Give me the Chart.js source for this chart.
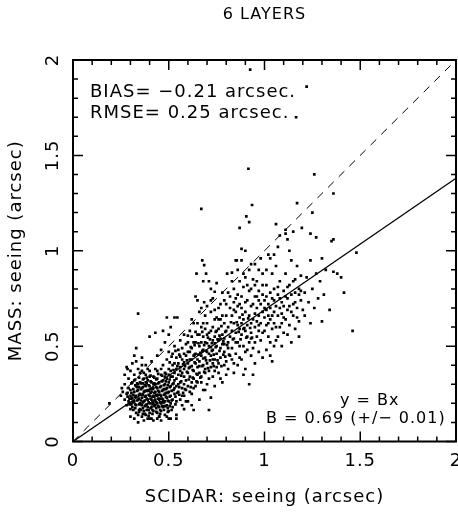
<!DOCTYPE html>
<html>
<head>
<meta charset="utf-8">
<title>6 LAYERS</title>
<script src="https://cdn.jsdelivr.net/npm/chart.js"></script>
<style>
  html, body { margin: 0; padding: 0; background: #fff; }
  canvas { display: block; }
</style>
</head>
<body>
<canvas id="seeingChart" width="458" height="515"></canvas>
<script>
// textes et graduations
const chartTitle = '6 LAYERS';
const xTitle = 'SCIDAR: seeing (arcsec)';
const yTitle = 'MASS: seeing (arcsec)';
const tickValues = [0, 0.5, 1, 1.5, 2];
const tickLabels = ['0', '0.5', '1', '1.5', '2'];
const statsText = ['BIAS= \u22120.21 arcsec.', 'RMSE= 0.25 arcsec.'];
const fitText = ['y = Bx', 'B = 0.69 (+/\u2212 0.01)'];
const fitSlope = 0.69;

// seeing SCIDAR (x) et MASS (y), par lignes de 10
const scidarSeeing = [
  0.27,0.28,0.28,0.29,0.29,0.30,0.30,0.27,0.29,0.30,
  0.31,0.31,0.32,0.32,0.33,0.33,0.31,0.32,0.33,0.30,
  0.33,0.34,0.34,0.34,0.35,0.35,0.35,0.34,0.33,0.35,
  0.36,0.36,0.36,0.37,0.37,0.37,0.37,0.38,0.38,0.38,
  0.36,0.37,0.38,0.38,0.39,0.39,0.39,0.39,0.38,0.36,
  0.40,0.40,0.40,0.40,0.41,0.41,0.41,0.41,0.42,0.42,
  0.42,0.42,0.42,0.40,0.41,0.43,0.43,0.43,0.43,0.43,
  0.44,0.44,0.44,0.44,0.44,0.45,0.45,0.45,0.45,0.45,
  0.46,0.46,0.46,0.46,0.46,0.47,0.47,0.47,0.47,0.47,
  0.48,0.48,0.48,0.48,0.48,0.49,0.49,0.49,0.49,0.49,
  0.50,0.50,0.50,0.50,0.50,0.51,0.51,0.51,0.51,0.51,
  0.355,0.365,0.375,0.385,0.395,0.405,0.415,0.425,0.435,0.445,
  0.355,0.365,0.375,0.385,0.395,0.405,0.415,0.425,0.435,0.445,
  0.315,0.325,0.335,0.345,0.315,0.325,0.345,0.355,0.305,0.285,
  0.455,0.465,0.475,0.485,0.495,0.455,0.465,0.475,0.485,0.495,
  0.525,0.52,0.53,0.52,0.53,0.54,0.54,0.53,0.54,0.52,
  0.26,0.27,0.28,0.30,0.31,0.32,0.35,0.36,0.39,0.41,
  0.30,0.32,0.34,0.37,0.39,0.42,0.44,0.46,0.49,0.40,
  0.335,0.345,0.355,0.365,0.375,0.385,0.395,0.405,0.415,0.425,
  0.435,0.445,0.455,0.465,0.475,0.485,0.495,0.505,0.515,0.505,
  0.295,0.305,0.315,0.325,0.335,0.345,0.355,0.365,0.375,0.385,
  0.395,0.405,0.415,0.425,0.435,0.445,0.455,0.465,0.475,0.485,
  0.55,0.55,0.55,0.56,0.56,0.56,0.57,0.57,0.57,0.58,
  0.58,0.58,0.58,0.59,0.59,0.59,0.60,0.60,0.60,0.60,
  0.61,0.61,0.61,0.62,0.62,0.62,0.63,0.63,0.63,0.64,
  0.64,0.64,0.65,0.65,0.65,0.52,0.53,0.54,0.55,0.56,
  0.57,0.58,0.59,0.60,0.61,0.62,0.63,0.44,0.46,0.48,
  0.50,0.50,0.51,0.49,0.53,0.545,0.47,0.43,0.40,0.33,
  0.54,0.62,0.63,0.71,0.72,0.50,0.45,0.58,0.66,0.68,
  0.555,0.565,0.575,0.585,0.595,0.605,0.615,0.625,0.635,0.645,
  0.52,0.53,0.54,0.55,0.56,0.57,0.51,0.52,0.53,0.54,
  0.66,0.66,0.66,0.67,0.67,0.67,0.68,0.68,0.68,0.69,
  0.69,0.69,0.70,0.70,0.70,0.71,0.71,0.71,0.72,0.72,
  0.72,0.73,0.73,0.73,0.74,0.74,0.74,0.75,0.75,0.75,
  0.76,0.76,0.76,0.77,0.77,0.77,0.78,0.78,0.78,0.79,
  0.79,0.79,0.80,0.80,0.80,0.81,0.81,0.81,0.82,0.82,
  0.645,0.675,0.685,0.695,0.68,0.64,0.65,0.685,0.74,0.72,
  0.66,0.70,0.73,0.76,0.78,0.71,0.75,0.805,0.83,0.855,
  0.665,0.675,0.685,0.695,0.705,0.715,0.725,0.735,0.745,0.755,
  0.765,0.775,0.785,0.795,0.805,0.815,0.825,0.635,0.655,0.675,
  0.70,0.73,0.76,0.79,0.82,0.74,0.77,0.69,0.80,0.84,
  0.83,0.83,0.83,0.84,0.84,0.84,0.85,0.85,0.85,0.86,
  0.86,0.86,0.87,0.87,0.87,0.88,0.88,0.88,0.89,0.89,
  0.89,0.90,0.90,0.90,0.91,0.91,0.91,0.92,0.92,0.92,
  0.93,0.93,0.93,0.94,0.94,0.94,0.95,0.95,0.95,0.96,
  0.96,0.96,0.97,0.97,0.97,0.98,0.98,0.98,0.99,0.99,
  0.86,0.88,0.90,0.905,0.92,0.88,0.87,0.935,0.916,0.95,
  0.84,0.90,0.92,0.96,0.98,0.93,0.87,0.85,0.97,0.99,
  0.835,0.855,0.865,0.875,0.885,0.895,0.905,0.915,0.925,0.935,
  0.86,0.88,0.90,0.93,0.95,0.97,0.99,0.94,0.84,0.89,
  1.00,1.00,1.00,1.01,1.01,1.01,1.02,1.02,1.02,1.03,
  1.03,1.03,1.04,1.04,1.04,1.05,1.05,1.05,1.06,1.06,
  1.06,1.07,1.07,1.08,1.08,1.08,1.09,1.09,1.10,1.10,
  1.10,1.11,1.11,1.12,1.12,1.13,1.13,1.14,1.14,1.15,
  1.15,1.16,1.16,1.17,1.17,1.18,1.18,1.19,1.19,1.20,
  1.06,1.11,1.11,1.12,1.15,1.195,1.08,1.02,1.07,1.13,
  1.01,1.03,1.05,1.07,1.09,1.12,1.14,1.16,1.18,1.04,
  1.21,1.21,1.22,1.23,1.24,1.24,1.25,1.26,1.27,1.28,
  1.29,1.30,1.30,1.31,1.32,1.34,1.35,1.36,1.38,1.40,
  1.48,1.46,1.415,1.24,1.27,1.36,1.25,1.17,1.26,1.36,
  1.22,1.165,0.925,0.67,1.05,0.34,0.19,0.25,0.255,0.285,
  0.58,0.60,0.62,0.64,0.66,0.68,0.70,0.72,0.74,0.76,
  0.78,0.80,0.82,0.84,0.86,0.88,0.90,0.92,0.94,0.96,
  0.61,0.63,0.65,0.67,0.69,0.71,0.73,0.75,0.77,0.79,
  0.57,0.59,0.61,0.63,0.65,0.67,0.69,0.71,0.73,0.75,
  0.285,0.295,0.305,0.315,0.325,0.335,0.345,0.355,0.365,0.375,
  0.385,0.395,0.405,0.415,0.425,0.435,0.445,0.455,0.465,0.475,
  0.485,0.495,0.505,0.515,0.525,0.535,0.545,0.305,0.325,0.345,
  0.365,0.385,0.405,0.425,0.445,0.465,0.485,0.505,0.375,0.395,
  0.415,0.435,0.455,0.475,0.495,0.515,0.535,0.555,0.345,0.365,
  0.32,0.34,0.36,0.38,0.40,0.42,0.44,0.46,0.48,0.50,
  0.505,0.515,0.525,0.535,0.545,0.555,0.565,0.575,0.585,0.595,
  0.605,0.615,0.625,0.635,0.645,0.655,0.665,0.675,0.685,0.695,
  0.705,0.715,0.725,0.735,0.745,0.755,0.765,0.775,0.785,0.795,
  0.56,0.58,0.60,0.62,0.64,0.66,0.68,0.70,0.72,0.74,
  0.62,0.65,0.67,0.69,0.72,0.74,0.77,0.79,0.81,0.83,
  0.85,0.87,0.89,0.91,0.93,0.95,0.97,0.99,1.01,1.03,
  0.81,0.83,0.85,0.87,0.89,0.91,0.93,0.95,0.97,0.99,
  1.00,1.02,1.04,1.06,1.08,1.10,1.12,1.14,1.16,1.18,
  1.01,1.03,1.05,1.07,1.09,1.11,1.13,1.15,1.17,1.19
];
const massSeeing = [
  0.22,0.19,0.25,0.21,0.28,0.17,0.24,0.30,0.33,0.20,
  0.23,0.18,0.26,0.21,0.15,0.29,0.31,0.35,0.24,0.27,
  0.19,0.22,0.27,0.14,0.20,0.25,0.31,0.38,0.42,0.17,
  0.23,0.19,0.28,0.21,0.26,0.16,0.33,0.24,0.19,0.29,
  0.13,0.36,0.40,0.14,0.22,0.27,0.18,0.32,0.35,0.44,
  0.24,0.20,0.29,0.15,0.22,0.26,0.18,0.31,0.24,0.20,
  0.28,0.16,0.34,0.37,0.12,0.22,0.26,0.19,0.30,0.38,
  0.24,0.20,0.28,0.15,0.33,0.22,0.26,0.18,0.31,0.13,
  0.24,0.20,0.29,0.35,0.16,0.22,0.27,0.32,0.18,0.40,
  0.25,0.21,0.30,0.14,0.36,0.23,0.28,0.19,0.33,0.43,
  0.26,0.21,0.31,0.16,0.38,0.24,0.29,0.20,0.34,0.12,
  0.215,0.245,0.185,0.265,0.205,0.255,0.235,0.215,0.245,0.265,
  0.275,0.175,0.295,0.225,0.295,0.175,0.275,0.255,0.175,0.225,
  0.205,0.235,0.265,0.195,0.275,0.175,0.245,0.305,0.225,0.235,
  0.245,0.265,0.205,0.235,0.255,0.285,0.185,0.295,0.275,0.215,
  0.27,0.22,0.32,0.18,0.25,0.29,0.21,0.36,0.14,0.40,
  0.26,0.35,0.39,0.37,0.41,0.45,0.36,0.40,0.38,0.42,
  0.13,0.12,0.10,0.11,0.12,0.11,0.12,0.11,0.13,0.12,
  0.305,0.335,0.165,0.325,0.235,0.165,0.245,0.315,0.145,0.305,
  0.325,0.185,0.205,0.315,0.245,0.185,0.295,0.235,0.265,0.185,
  0.195,0.305,0.165,0.295,0.215,0.165,0.245,0.205,0.265,0.305,
  0.165,0.225,0.205,0.185,0.205,0.305,0.165,0.225,0.165,0.315,
  0.30,0.26,0.35,0.22,0.39,0.31,0.28,0.43,0.19,0.34,
  0.30,0.38,0.24,0.45,0.32,0.27,0.36,0.41,0.21,0.29,
  0.34,0.47,0.39,0.31,0.43,0.25,0.37,0.52,0.33,0.41,
  0.46,0.29,0.39,0.56,0.35,0.46,0.50,0.44,0.48,0.53,
  0.49,0.56,0.51,0.47,0.58,0.55,0.62,0.45,0.48,0.52,
  0.47,0.56,0.60,0.65,0.65,0.65,0.58,0.57,0.55,0.49,
  0.12,0.19,0.165,0.165,0.23,0.12,0.13,0.17,0.22,0.27,
  0.285,0.345,0.255,0.395,0.365,0.325,0.285,0.375,0.415,0.355,
  0.30,0.28,0.33,0.41,0.37,0.36,0.37,0.34,0.41,0.38,
  0.42,0.50,0.36,0.45,0.60,0.31,0.48,0.40,0.55,0.44,
  0.52,0.36,0.47,0.62,0.41,0.50,0.33,0.57,0.45,0.68,
  0.39,0.53,0.48,0.60,0.43,0.55,0.37,0.50,0.65,0.46,
  0.53,0.41,0.59,0.49,0.72,0.44,0.56,0.51,0.31,0.62,
  0.47,0.54,0.58,0.42,0.66,0.52,0.60,0.38,0.55,0.70,
  0.88,0.95,0.925,0.88,0.84,0.76,0.74,0.73,0.785,0.80,
  0.68,0.71,0.75,0.70,0.78,0.84,0.83,0.88,0.885,0.95,
  0.465,0.395,0.505,0.475,0.545,0.425,0.515,0.455,0.575,0.535,
  0.475,0.605,0.455,0.575,0.505,0.455,0.625,0.455,0.515,0.575,
  0.30,0.34,0.36,0.40,0.45,0.29,0.33,0.27,0.35,0.41,
  0.58,0.49,0.66,0.54,0.62,0.73,0.57,0.46,0.68,0.61,
  0.52,0.77,0.59,0.65,0.44,0.56,0.70,0.62,0.50,0.81,
  0.64,0.58,0.68,0.47,0.61,0.74,0.55,0.66,0.30,0.52,
  0.62,0.71,0.57,0.85,0.64,0.49,0.60,0.76,0.67,0.55,
  0.70,0.63,0.58,0.79,0.66,0.53,0.72,0.62,0.68,0.88,
  0.90,0.95,1.00,1.18,1.15,1.01,1.12,1.24,1.43,0.93,
  0.80,0.86,0.90,0.84,0.96,0.80,0.84,0.95,0.90,0.77,
  0.535,0.625,0.575,0.535,0.665,0.595,0.545,0.645,0.595,0.545,
  0.40,0.43,0.38,0.45,0.41,0.47,0.44,0.35,0.36,0.35,
  0.65,0.74,0.58,0.69,0.82,0.61,0.72,0.55,0.66,0.78,
  0.64,0.70,0.59,0.75,0.88,0.68,0.62,0.80,0.71,0.53,
  0.92,0.66,0.77,0.70,0.60,0.84,0.73,0.67,0.79,0.57,
  0.71,0.88,0.64,0.75,0.69,0.82,0.61,0.77,0.95,0.72,
  0.66,0.85,0.78,0.70,0.92,0.63,0.80,0.74,0.87,0.69,
  1.14,1.11,1.09,1.06,1.10,1.12,1.08,0.98,1.02,1.00,
  0.48,0.45,0.50,0.55,0.50,0.56,0.52,0.59,0.55,0.42,
  0.78,0.66,0.86,0.73,0.62,0.95,0.80,0.70,0.88,0.75,
  0.84,0.96,0.63,0.77,0.90,0.69,1.05,0.89,0.88,0.86,
  0.99,0.58,0.78,1.09,1.07,1.06,1.20,1.25,1.40,1.30,
  1.86,1.70,1.95,1.22,0.98,0.67,0.20,0.24,0.28,0.38,
  0.46,0.52,0.49,0.52,0.56,0.62,0.56,0.58,0.64,0.64,
  0.66,0.72,0.76,0.69,0.71,0.76,0.73,0.79,0.72,0.76,
  0.43,0.45,0.43,0.52,0.59,0.46,0.41,0.58,0.54,0.51,
  0.24,0.21,0.26,0.28,0.31,0.34,0.38,0.37,0.43,0.39,
  0.255,0.225,0.195,0.245,0.195,0.285,0.225,0.195,0.285,0.215,
  0.195,0.265,0.275,0.165,0.235,0.285,0.245,0.225,0.205,0.275,
  0.255,0.175,0.285,0.215,0.305,0.195,0.255,0.255,0.325,0.285,
  0.305,0.335,0.345,0.335,0.355,0.345,0.355,0.325,0.145,0.135,
  0.195,0.155,0.145,0.185,0.155,0.165,0.235,0.245,0.155,0.145,
  0.32,0.30,0.37,0.31,0.34,0.30,0.37,0.38,0.34,0.35,
  0.415,0.445,0.375,0.475,0.395,0.455,0.315,0.405,0.275,0.425,
  0.385,0.495,0.335,0.505,0.315,0.455,0.335,0.475,0.365,0.425,
  0.385,0.535,0.475,0.395,0.495,0.425,0.555,0.395,0.525,0.445,
  0.445,0.415,0.555,0.395,0.575,0.395,0.435,0.515,0.495,0.515,
  0.64,0.62,0.70,0.66,0.74,0.69,0.64,0.74,0.78,0.84,
  0.75,0.72,0.88,0.82,0.93,0.82,0.74,0.82,0.90,0.96,
  0.49,0.43,0.52,0.50,0.59,0.48,0.54,0.52,0.61,0.57,
  0.70,0.62,0.66,0.60,0.75,0.65,0.81,0.68,0.73,0.77,
  0.76,0.52,0.74,0.81,0.62,0.76,0.71,0.84,0.65,0.79
];

if (scidarSeeing.length !== massSeeing.length) {
  console.error('Tailles différentes:', scidarSeeing.length, massSeeing.length);
}
const points = scidarSeeing.map((x, i) => ({ x: x, y: massSeeing[i] }));

const FONT = '"DejaVu Sans", "Liberation Sans", sans-serif';

// cadre, graduations et textes dessinés à la main (style PGPLOT)
const framePlugin = {
  id: 'frame',
  afterDraw(chart) {
    const { ctx, chartArea: a, scales } = chart;
    const xs = scales.x, ys = scales.y;
    ctx.save();
    ctx.strokeStyle = '#000';
    ctx.fillStyle = '#000';

    ctx.lineWidth = 1.5;
    ctx.beginPath();
    for (let i = 0; i <= 20; i++) {
      const v = i / 10;
      const len = (i % 5 === 0) ? 10 : 5;
      const px = xs.getPixelForValue(v);
      const py = ys.getPixelForValue(v);
      ctx.moveTo(px, a.bottom); ctx.lineTo(px, a.bottom - len);
      ctx.moveTo(px, a.top); ctx.lineTo(px, a.top + len);
      ctx.moveTo(a.left, py); ctx.lineTo(a.left + len, py);
      ctx.moveTo(a.right, py); ctx.lineTo(a.right - len, py);
    }
    ctx.stroke();

    ctx.lineWidth = 2;
    ctx.strokeRect(a.left, a.top, a.right - a.left, a.bottom - a.top);

    ctx.letterSpacing = '1px';
    ctx.font = '18px ' + FONT;
    ctx.textAlign = 'center';
    ctx.textBaseline = 'middle';

    tickValues.forEach((v, i) => {
      ctx.fillText(tickLabels[i], xs.getPixelForValue(v), 461);
      ctx.save();
      ctx.translate(53, ys.getPixelForValue(v));
      ctx.rotate(-Math.PI / 2);
      ctx.fillText(tickLabels[i], 0, 0);
      ctx.restore();
    });

    const cx = (a.left + a.right) / 2;
    const cy = (a.top + a.bottom) / 2;
    ctx.fillText(xTitle, cx, 497);
    ctx.save();
    ctx.translate(16, cy);
    ctx.rotate(-Math.PI / 2);
    ctx.fillText(yTitle, 0, 0);
    ctx.restore();

    ctx.font = '16px ' + FONT;
    ctx.fillText(chartTitle, cx, 15);

    ctx.font = '18px ' + FONT;
    ctx.textAlign = 'left';
    ctx.fillText(statsText[0], 90, 92);
    ctx.fillText(statsText[1], 90, 113);

    ctx.font = '16px ' + FONT;
    ctx.fillText(fitText[0], 340, 401);
    ctx.fillText(fitText[1], 266, 419);
    ctx.restore();
  }
};

new Chart(document.getElementById('seeingChart').getContext('2d'), {
  type: 'scatter',
  data: {
    datasets: [
      {
        data: points,
        pointStyle: 'rect',
        pointRadius: 1.9,
        backgroundColor: '#000',
        borderWidth: 0,
        showLine: false
      },
      {
        data: [{ x: 0, y: 0 }, { x: 2, y: 2 }],
        showLine: true,
        borderColor: '#000',
        borderWidth: 1,
        borderDash: [8, 7],
        pointRadius: 0
      },
      {
        data: [{ x: 0, y: 0 }, { x: 2, y: 2 * fitSlope }],
        showLine: true,
        borderColor: '#000',
        borderWidth: 1.3,
        pointRadius: 0
      }
    ]
  },
  options: {
    responsive: false,
    animation: false,
    events: [],
    layout: { autoPadding: false, padding: { left: 73, right: 2, top: 60, bottom: 73.5 } },
    scales: {
      x: { type: 'linear', min: 0, max: 2, display: false },
      y: { type: 'linear', min: 0, max: 2, display: false }
    },
    plugins: { legend: { display: false }, tooltip: { enabled: false } }
  },
  plugins: [framePlugin]
});
</script>
</body>
</html>
